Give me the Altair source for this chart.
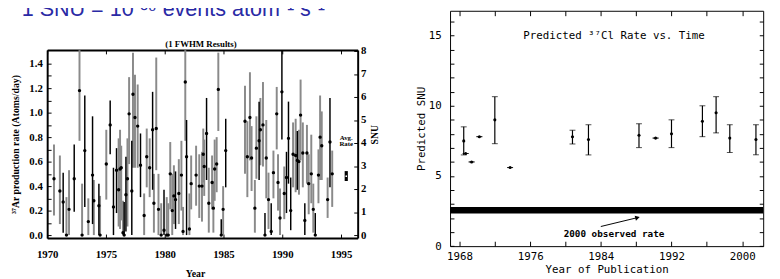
import altair as alt
import pandas as pd

# ---------------- left panel: 37Ar production rate per run ----------------
ar_year = [1970.58, 1971.08, 1971.36, 1971.64, 1971.86, 1972.30, 1972.75, 1972.97, 1973.20, 1973.50, 1973.86, 1973.97,
           1974.40, 1974.50, 1975.03, 1975.36, 1975.64, 1975.90, 1976.08, 1976.20, 1976.30, 1976.45, 1976.55,
           1976.70, 1976.83, 1976.97, 1977.20, 1977.30, 1977.47, 1977.70, 1977.94, 1978.25, 1978.47, 1978.72, 1978.97,
           1979.08, 1979.28, 1979.47, 1979.70, 1979.94, 1980.17, 1980.30, 1980.47, 1980.64, 1980.78, 1980.92,
           1981.20, 1981.42, 1981.56, 1981.75, 1981.86, 1982.10, 1982.25, 1982.67, 1982.94, 1983.17, 1983.28, 1983.36,
           1983.56, 1983.75, 1984.03, 1984.14, 1984.25, 1984.42, 1984.56, 1984.81, 1984.97, 1985.19,
           1986.83, 1987.03, 1987.25, 1987.39, 1987.67, 1987.80, 1988.03, 1988.14, 1988.36, 1988.53, 1988.64, 1988.83,
           1989.06, 1989.25, 1989.53, 1989.64, 1989.81, 1989.97,
           1990.17, 1990.36, 1990.53, 1990.72, 1990.92, 1991.14, 1991.28, 1991.42, 1991.56, 1991.75, 1991.92,
           1992.10, 1992.25, 1992.47, 1992.64, 1992.81, 1993.08, 1993.22, 1993.36, 1993.86, 1994.06, 1994.25]
ar_rate = [.46, .36, .27, 0, .21, .46, 1.18, 0, .69, .11, .49, .28, .24, 0, .58, .90, .23, .53, .37, .54, .55, .02, 0,
           .33, .46, .99, .36, 1.15, .96, .89, .57, .16, .64, .55, .86, .26, .87, .21, 0, .04, 0, 0, .50, .20, .32, .29,
           .34, .49, .03, 1.25, .64, .05, .42, .49, .40, .40, .66, .56,
           .83, .26, .43, .22, .54, .58, 1.19, 0, .21, .69, .93, .64, .96, .63, .22, .71, .77, .86, .90, 0, .63, .29,
           .03, .51, .99, .43, .14, 1.17,
           .34, .47, .79, .20, .66, .65, .61, .60, .98, .67, .12, .67, .42, .50, .21, 0, .49, .80, .73, .29, .76, .50]
ar_lo = [.16, .09, .02, 0, 0, .19, .77, 0, .23, 0, .09, 0, 0, 0, .29, .66, 0, .18, .07, .05, .12, 0, 0,
         .03, .07, .58, 0, .55, .55, .55, .31, 0, .39, .31, .37, .02, .53, 0, 0, 0, 0, 0, .21, 0, .09, .05,
         .09, .20, 0, .77, 0, 0, .21, .24, .14, .11, .43, .32,
         .45, .02, .21, .02, .28, .35, .85, 0, 0, .39, .50, .31, .61, .36, .02, .46, .45, .57, .56, 0, .30, .05,
         0, .30, .70, .20, 0, .78,
         .13, .18, .42, .04, .39, .35, .37, .33, .61, .39, 0, .42, .17, .26, .02, 0, .26, .45, .45, .14, .39, .23]
ar_hi = [.74, .65, .51, .31, .53, .74, 1.51, .42, 1.14, .30, .97, .45, .42, .32, .86, 1.10, .55, .71, .79, .86, .73, .28, .27,
         .64, .79, 1.29, .77, 1.49, 1.31, 1.23, .83, .34, .87, .79, 1.17, .50, 1.45, .50, .26, .37, .31, .26, .76, .50, .57, .52,
         .62, .77, .23, 1.51, .94, .34, .65, .73, .66, .68, .87, .78,
         1.12, .55, .65, .44, .78, .80, 1.49, .13, .40, .95, 1.22, .93, 1.33, .89, .45, .97, 1.09, 1.12, 1.25, .18, .94, .51,
         .26, .69, 1.21, .66, .38, 1.51,
         .56, .68, 1.09, .47, .92, .95, .85, .86, 1.27, .92, .26, .90, .66, .82, .42, .18, .70, 1.14, 1.01, .47, 1.12, .69]
ar_black = [0, 0, 1, 0, 0, 1, 0, 0, 1, 0, 1, 0, 1, 0, 0, 1, 1, 1, 0, 0, 0, 0, 1,
            1, 0, 0, 1, 0, 0, 0, 1, 0, 0, 0, 1, 0, 0, 0, 0, 1, 0, 0, 0, 0, 0, 1,
            0, 0, 0, 0, 1, 0, 0, 0, 0, 0, 0, 0,
            1, 0, 0, 0, 0, 0, 0, 1, 0, 1, 0, 0, 0, 0, 0, 0, 1, 0, 0, 1, 0, 0,
            1, 0, 0, 0, 0, 1,
            0, 1, 1, 1, 0, 0, 1, 0, 0, 0, 1, 0, 0, 0, 0, 1, 0, 0, 0, 0, 1, 0]

avg_x = [1995.31, 1995.58]
avg_snu = [2.35, 2.78]
avg_mid = [1995.445, 2.56]
avg_label = ["Avg.", "Rate"]
avg_label_snu = [4.23, 3.94]

# ---------------- right panel: predicted 37Cl rate vs. publication year ----------------
cl_year = [1968.48, 1968.70, 1969.37, 1970.25, 1972.00, 1973.73, 1980.79, 1982.60, 1988.32, 1990.20,
           1992.00, 1995.50, 1997.05, 1998.60, 2001.56]
cl_snu = [7.5, 6.6, 6.0, 7.8, 9.0, 5.6, 7.8, 7.6, 7.9, 7.7, 8.0, 8.9, 9.5, 7.7, 7.6]
cl_lo = [6.5, 6.6, 6.0, 7.8, 7.3, 5.6, 7.28, 6.5, 7.02, 7.7, 7.02, 7.8, 8.07, 6.67, 6.51]
cl_hi = [8.5, 6.6, 6.0, 7.8, 10.65, 5.6, 8.26, 8.65, 8.72, 7.7, 9.0, 10.0, 10.65, 8.65, 8.65]
obs_band = [2.33, 2.79]
arrow_year = [1984.0, 1988.07]
arrow_snu = [1.40, 2.02]

# ---------------- scales ----------------
LXD, LXR = [1970, 1996.417], [40, 357]
LYD, LYR = [-0.024, 1.512], [232, 40]
LSD = [-0.1277, 8.043]
RXD, RXR = [1966.93, 2002.38], [451.3, 771]
RYD, RYR = [0, 16.77], [240.3, 0]

def sc(d, r):
    return alt.Scale(domain=d, range=r, nice=False, zero=False)

SERIF = "Liberation Serif"
MONO = "DejaVu Sans Mono"

def ax(orient, offset, values, font, size=11, labels=True, tick=-4, pad=0, dw=1, title=None, **kw):
    a = dict(orient=orient, offset=offset, values=values, grid=False, labels=labels,
             tickSize=alt.ExprRef(expr=str(tick)), tickColor="black", tickWidth=1,
             domainColor="black", domainWidth=dw, labelFont=font, labelFontSize=size,
             labelColor="black", labelPadding=pad, labelFlush=False, labelOverlap=False,
             titleColor="black", titleFont=font)
    a.update(kw)
    return alt.Axis(title=title if title is not None else "", **a)

yrs5 = [1970, 1975, 1980, 1985, 1990, 1995]
rate_ticks = [round(0.1 * i, 1) for i in range(15)]

ax_l_bottom = ax("bottom", -39, yrs5, SERIF, pad=15, dw=2, title="Year", format="d",
                 labelFontWeight="bold", titleFontWeight="bold", titleFontSize=10, titleX=191, titlePadding=9)
ax_l_top = ax("top", -40, yrs5, SERIF, labels=False, dw=2)
ax_l_left = ax("left", -40, rate_ticks, SERIF, pad=9, dw=2, title="³⁷Ar production rate (Atoms/day)",
               labelExpr="round(datum.value*10) % 2 == 0 ? format(datum.value, '.1f') : ''",
               labelFontWeight="bold", titleFontWeight="bold", titleFontSize=10, titlePadding=9)
ax_snu = ax("right", -423, list(range(9)), SERIF, pad=7, dw=2, title="SNU", format="d",
            labelFontWeight="bold", titleFontWeight="bold", titleFontSize=10, titleAngle=270,
            titleBaseline="top", titlePadding=4, titleY=126)

r_years = list(range(1968, 2004, 4))
ax_r_bottom = ax("bottom", -30.7, r_years, MONO, tick=-5, pad=10, title="Year of Publication",
                 labelExpr="datum.value % 8 == 0 ? format(datum.value, 'd') : ''",
                 titleFontSize=11, titlePadding=2, titleFontWeight="normal")
ax_r_top = ax("top", 0, r_years, MONO, labels=False, tick=-5)
ax_r_left = ax("left", -451.3, list(range(17)), MONO, pad=13, title="Predicted SNU",
               labelExpr="datum.value % 5 == 0 ? format(datum.value, 'd') : ''",
               titleFontSize=11, titlePadding=2, titleFontWeight="normal")
ax_r_right = ax("right", -9, list(range(17)), MONO, labels=False)

# ---------------- data frames ----------------
left = pd.DataFrame(dict(year=ar_year, rate=ar_rate, lo=ar_lo, hi=ar_hi, black=ar_black))
gray_df = left[left.black == 0]
black_df = left[left.black == 1]
avg_df = pd.DataFrame(dict(x0=[avg_x[0]], x1=[avg_x[1]], y0=[avg_snu[0]], y1=[avg_snu[1]]))
avg_dot = pd.DataFrame(dict(x=[avg_mid[0]], y=[avg_mid[1]]))
avg_txt = pd.DataFrame(dict(x=[avg_mid[0]] * 2, y=avg_label_snu, t=avg_label))

right = pd.DataFrame(dict(year=cl_year, snu=cl_snu, lo=cl_lo, hi=cl_hi))
band_df = pd.DataFrame(dict(x0=[RXD[0]], x1=[RXD[1]], y0=[obs_band[0]], y1=[obs_band[1]]))
arrow_df = pd.DataFrame(dict(year=arrow_year, snu=arrow_snu))
head_df = arrow_df.tail(1)

# ---------------- layers ----------------
L_gray = alt.Chart(gray_df).mark_rule(color="#8a8a8a", strokeWidth=2).encode(
    x=alt.X("year:Q", scale=sc(LXD, LXR), axis=ax_l_bottom),
    y=alt.Y("lo:Q", scale=sc(LYD, LYR), axis=ax_l_left), y2="hi:Q")
L_black = alt.Chart(black_df).mark_rule(color="black", strokeWidth=1.5).encode(
    x=alt.X("year:Q", scale=sc(LXD, LXR), axis=ax_l_top),
    y=alt.Y("lo:Q", scale=sc(LYD, LYR), axis=None), y2="hi:Q")
L_pts = alt.Chart(left).mark_circle(color="black", size=12, opacity=1).encode(
    x=alt.X("year:Q", scale=sc(LXD, LXR), axis=None),
    y=alt.Y("rate:Q", scale=sc(LYD, LYR), axis=None))
L_avg = alt.Chart(avg_df).mark_rect(color="black").encode(
    x=alt.X("x0:Q", scale=sc(LXD, LXR), axis=None), x2="x1:Q",
    y=alt.Y("y0:Q", scale=sc(LSD, LYR), axis=ax_snu), y2="y1:Q")
L_avgdot = alt.Chart(avg_dot).mark_circle(color="white", size=3, opacity=1).encode(
    x=alt.X("x:Q", scale=sc(LXD, LXR), axis=None),
    y=alt.Y("y:Q", scale=sc(LSD, LYR), axis=None))
L_avgtxt = alt.Chart(avg_txt).mark_text(font=SERIF, fontWeight="bold", fontSize=7, color="black").encode(
    x=alt.X("x:Q", scale=sc(LXD, LXR), axis=None),
    y=alt.Y("y:Q", scale=sc(LSD, LYR), axis=None), text="t:N")
L_head = alt.Chart(pd.DataFrame({"t": ["(1 FWHM Results)"]})).mark_text(
    font=SERIF, fontWeight="bold", fontSize=9, color="black", baseline="alphabetic").encode(
    x=alt.value(197), y=alt.value(37), text="t:N")

R_rules = alt.Chart(right).mark_rule(color="black", strokeWidth=1.2).encode(
    x=alt.X("year:Q", scale=sc(RXD, RXR), axis=ax_r_bottom),
    y=alt.Y("lo:Q", scale=sc(RYD, RYR), axis=ax_r_left), y2="hi:Q")
R_caphi = alt.Chart(right).mark_tick(color="black", orient="horizontal", size=6, thickness=1).encode(
    x=alt.X("year:Q", scale=sc(RXD, RXR), axis=ax_r_top),
    y=alt.Y("hi:Q", scale=sc(RYD, RYR), axis=ax_r_right))
R_caplo = alt.Chart(right).mark_tick(color="black", orient="horizontal", size=6, thickness=1).encode(
    x=alt.X("year:Q", scale=sc(RXD, RXR), axis=None),
    y=alt.Y("lo:Q", scale=sc(RYD, RYR), axis=None))
R_pts = alt.Chart(right).mark_circle(color="black", size=10, opacity=1).encode(
    x=alt.X("year:Q", scale=sc(RXD, RXR), axis=None),
    y=alt.Y("snu:Q", scale=sc(RYD, RYR), axis=None))
R_band = alt.Chart(band_df).mark_rect(color="black").encode(
    x=alt.X("x0:Q", scale=sc(RXD, RXR), axis=None), x2="x1:Q",
    y=alt.Y("y0:Q", scale=sc(RYD, RYR), axis=None), y2="y1:Q")
R_arrow = alt.Chart(arrow_df).mark_line(color="black", strokeWidth=1).encode(
    x=alt.X("year:Q", scale=sc(RXD, RXR), axis=None),
    y=alt.Y("snu:Q", scale=sc(RYD, RYR), axis=None))
R_head = alt.Chart(head_df).mark_point(shape="triangle", angle=76, filled=True, size=28, color="black", opacity=1).encode(
    x=alt.X("year:Q", scale=sc(RXD, RXR), axis=None),
    y=alt.Y("snu:Q", scale=sc(RYD, RYR), axis=None))
R_obs = alt.Chart(pd.DataFrame({"t": ["2000 observed rate"]})).mark_text(
    font=MONO, fontWeight="bold", fontSize=9.5, color="black").encode(
    x=alt.value(618.7), y=alt.value(228), text="t:N")
R_title = alt.Chart(pd.DataFrame({"t": ["Predicted ³⁷Cl Rate vs. Time"]})).mark_text(
    font=MONO, fontSize=11, color="black").encode(
    x=alt.value(618.7), y=alt.value(26), text="t:N")

TOP = alt.Chart(pd.DataFrame({"t": ["1 SNU = 10⁻³⁶ events atom⁻¹ s⁻¹"]})).mark_text(
    font="Liberation Sans", fontSize=22, color="#2a2aa5", align="left", baseline="alphabetic").encode(
    x=alt.value(14), y=alt.value(5), text="t:N")

chart = alt.layer(
    L_gray, L_black, L_pts, L_avg, L_avgdot, L_avgtxt, L_head,
    R_band, R_rules, R_caphi, R_caplo, R_pts, R_arrow, R_head, R_obs, R_title, TOP
).resolve_scale(x="independent", y="independent").resolve_axis(
    x="independent", y="independent"
).properties(
    width=780, height=271, padding=0, background="white",
    autosize=alt.AutoSizeParams(type="none")
).configure_view(strokeWidth=0)

chart.save("out.html", embed_options={"renderer": "svg", "actions": False})
